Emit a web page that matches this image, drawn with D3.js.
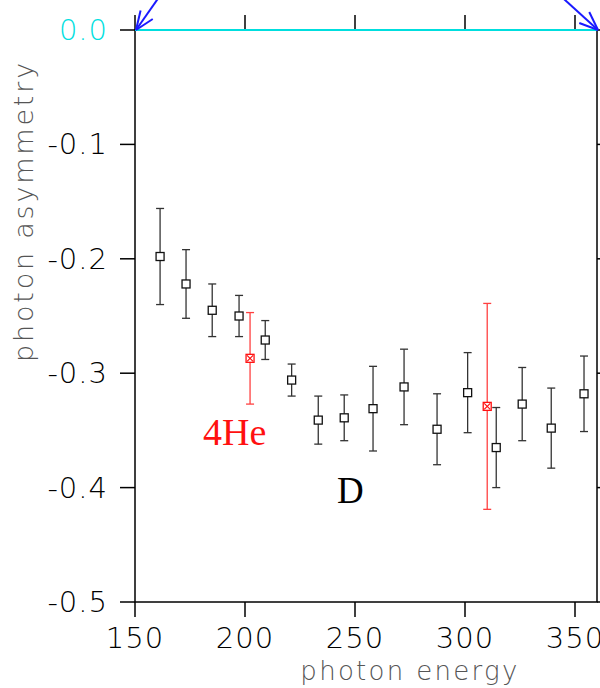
<!DOCTYPE html>
<html>
<head>
<meta charset="utf-8">
<script src="https://cdn.jsdelivr.net/npm/d3@7"></script>
<style>
  body { margin: 0; background: #fff; }
  svg { display: block; }
  .tick-label { font-family: "DejaVu Sans", sans-serif; font-weight: 200; }
</style>
</head>
<body>
<script>
// deuterium points (black)
var dEnergy = [161.4, 173.2, 185.1, 197.3, 209.2, 221.2, 233.3, 245.1, 258.2, 272.3, 287.3, 301.2, 314.2, 326.0, 339.2, 354.1];
var dAsym   = [-0.198, -0.222, -0.245, -0.250, -0.271, -0.306, -0.341, -0.339, -0.331, -0.312, -0.349, -0.317, -0.365, -0.327, -0.348, -0.318];
var dErr    = [0.042, 0.030, 0.023, 0.018, 0.017, 0.014, 0.021, 0.020, 0.037, 0.033, 0.031, 0.035, 0.035, 0.032, 0.035, 0.033];
// 4He points (red)
var heEnergy = [202.3, 310.1];
var heAsym   = [-0.287, -0.329];
var heErr    = [0.040, 0.090];

var xTicks = [150, 200, 250, 300, 350];
var yTicks = [0.0, -0.1, -0.2, -0.3, -0.4, -0.5];

var width = 600, height = 688;
var svg = d3.select("body").append("svg")
    .attr("width", width)
    .attr("height", height);

var x = d3.scaleLinear().domain([150, 360]).range([135, 597]);
var y = d3.scaleLinear().domain([0, -0.5]).range([30, 602]);

// frame
svg.append("rect")
    .attr("x", x(150)).attr("y", y(0))
    .attr("width", x(360) - x(150)).attr("height", y(-0.5) - y(0))
    .style("fill", "none").style("stroke", "black").style("stroke-width", 1.5);

// ticks on all four sides
var tickLen = 15;
var tickG = svg.append("g").style("stroke", "black").style("stroke-width", 1.5);
xTicks.forEach(function (t) {
    tickG.append("line").attr("x1", x(t)).attr("x2", x(t)).attr("y1", y(0)).attr("y2", y(0) - tickLen);
    tickG.append("line").attr("x1", x(t)).attr("x2", x(t)).attr("y1", y(-0.5)).attr("y2", y(-0.5) + tickLen);
});
yTicks.forEach(function (t) {
    tickG.append("line").attr("x1", x(150)).attr("x2", x(150) - tickLen).attr("y1", y(t)).attr("y2", y(t));
    tickG.append("line").attr("x1", x(360)).attr("x2", x(360) + tickLen).attr("y1", y(t)).attr("y2", y(t));
});

// zero line in cyan
svg.append("line")
    .attr("x1", x(150)).attr("x2", x(360)).attr("y1", y(0)).attr("y2", y(0))
    .style("stroke", "#00dede").style("stroke-width", 2);

// tick labels
svg.selectAll(".xlab").data(xTicks).enter().append("text")
    .attr("class", "tick-label")
    .attr("x", function (d) { return x(d); })
    .attr("y", 648)
    .attr("text-anchor", "middle")
    .style("font-size", "29px")
    .style("letter-spacing", "1px")
    .text(function (d) { return d; });

svg.selectAll(".ylab").data(yTicks).enter().append("text")
    .attr("class", "tick-label")
    .attr("x", 108)
    .attr("y", function (d) { return y(d) + 10; })
    .attr("text-anchor", "end")
    .style("font-size", "29px")
    .style("letter-spacing", "1px")
    .style("fill", function (d) { return d === 0 ? "#00e0e0" : "black"; })
    .text(function (d) { return d === 0 ? "0.0" : "-" + d3.format(".1f")(-d); });

// axis titles
svg.append("text")
    .attr("class", "tick-label")
    .attr("x", 410).attr("y", 680)
    .attr("text-anchor", "middle")
    .style("font-size", "26px").style("letter-spacing", "2.3px")
    .style("fill", "#555")
    .text("photon energy");

svg.append("text")
    .attr("class", "tick-label")
    .attr("transform", "translate(33,211) rotate(-90)")
    .attr("text-anchor", "middle")
    .style("font-size", "27px").style("letter-spacing", "2.8px")
    .style("fill", "#555")
    .text("photon asymmetry");

// blue arrows pointing at the ends of the zero line
function arrow(tx, ty, dx, dy) {
    var len = Math.sqrt(dx * dx + dy * dy);
    var ux = dx / len, uy = dy / len;
    var g = svg.append("g").style("stroke", "#1a1aff").style("stroke-width", 2).style("fill", "none");
    g.append("line").attr("x1", tx).attr("y1", ty).attr("x2", tx + ux * 60).attr("y2", ty + uy * 60);
    [0.38, -0.38].forEach(function (a) {
        var bx = ux * Math.cos(a) - uy * Math.sin(a);
        var by = ux * Math.sin(a) + uy * Math.cos(a);
        g.append("line").attr("x1", tx).attr("y1", ty).attr("x2", tx + bx * 20).attr("y2", ty + by * 20);
    });
}
arrow(x(150) + 1, y(0), 21, -30);
arrow(x(360) + 1, y(0), -33, -30);

// error bars + markers
function drawSeries(xs, ys, es, color, barColor, marker) {
    var g = svg.append("g");
    var cap = 4;
    xs.forEach(function (e, i) {
        var cx = x(e), top = y(ys[i] + es[i]), bot = y(ys[i] - es[i]), cy = y(ys[i]);
        g.append("line").attr("x1", cx).attr("x2", cx).attr("y1", top).attr("y2", bot)
            .style("stroke", barColor).style("stroke-width", 1.3);
        g.append("line").attr("x1", cx - cap).attr("x2", cx + cap).attr("y1", top).attr("y2", top)
            .style("stroke", barColor).style("stroke-width", 1.3);
        g.append("line").attr("x1", cx - cap).attr("x2", cx + cap).attr("y1", bot).attr("y2", bot)
            .style("stroke", barColor).style("stroke-width", 1.3);
        g.append("rect").attr("x", cx - 4).attr("y", cy - 4).attr("width", 8).attr("height", 8)
            .style("fill", "white").style("stroke", color).style("stroke-width", 1.3);
        if (marker === "cross") {
            g.append("path")
                .attr("d", "M" + (cx - 3) + "," + (cy - 3) + "L" + (cx + 3) + "," + (cy + 3) +
                           "M" + (cx - 3) + "," + (cy + 3) + "L" + (cx + 3) + "," + (cy - 3))
                .style("stroke", color).style("stroke-width", 1.2);
        }
    });
}
drawSeries(dEnergy, dAsym, dErr, "#111", "#333", "square");
drawSeries(heEnergy, heAsym, heErr, "#ff1010", "#ff4040", "cross");

// labels in the plot
svg.append("text")
    .attr("x", 203).attr("y", 445)
    .style("font-family", "'Liberation Serif', 'Times New Roman', serif")
    .style("font-size", "38px").style("fill", "#ff1010")
    .text("4He");
svg.append("text")
    .attr("x", 337).attr("y", 503)
    .style("font-family", "'Liberation Serif', 'Times New Roman', serif")
    .style("font-size", "37px").style("fill", "black")
    .text("D");
</script>
</body>
</html>
